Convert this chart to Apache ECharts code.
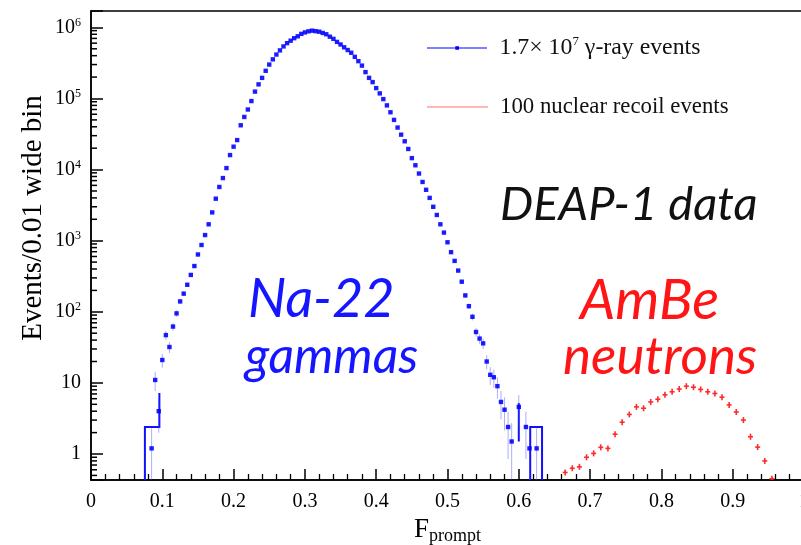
<!DOCTYPE html>
<html><head><meta charset="utf-8">
<script src="https://cdn.jsdelivr.net/npm/echarts@6/dist/echarts.min.js"></script>
<style>html,body{margin:0;padding:0;background:#fff}#c{width:801px;height:545px}</style>
</head><body><div id="c"></div>
<script>
// ---- data ----
const blueF = [0.085,0.09,0.095,0.10,0.105,0.11,0.115,0.12,0.125,0.13,0.135,0.14,0.145,0.15,0.155,0.16,0.165,0.17,0.175,0.18,0.185,0.19,0.195,0.20,0.205,0.21,0.215,0.22,0.225,0.23,0.235,0.24,0.245,0.25,0.255,0.26,0.265,0.27,0.275,0.28,0.285,0.29,0.295,0.30,0.305,0.31,0.315,0.32,0.325,0.33,0.335,0.34,0.345,0.35,0.355,0.36,0.365,0.37,0.375,0.38,0.385,0.39,0.395,0.40,0.405,0.41,0.415,0.42,0.425,0.43,0.435,0.44,0.445,0.45,0.455,0.46,0.465,0.47,0.475,0.48,0.485,0.49,0.495,0.50,0.505,0.51,0.515,0.52,0.525,0.53,0.535,0.54,0.545,0.55,0.555,0.56,0.565,0.57,0.575,0.58,0.585,0.59,0.60,0.61,0.615,0.625];
const blueN = [1.2,11,4,21,47,32,62,95,140,180,240,330,440,640,870,1200,1700,2500,3900,5700,7600,10500,16000,21000,26000,42000,55000,70000,92000,125000,158000,195000,245000,300000,355000,415000,475000,540000,600000,650000,705000,750000,810000,850000,880000,900000,885000,870000,835000,800000,740000,690000,625000,575000,525000,480000,440000,385000,335000,290000,235000,195000,170000,140000,118000,98000,80000,64000,50000,39000,31000,25000,19500,14500,11500,8800,6700,5200,4000,3000,2300,1700,1300,950,690,520,380,265,170,120,85,52,42,36,20,13,12,9,5.4,4.2,2.4,1.5,4.6,2.4,1.2,1.2];
const redF = [0.665,0.675,0.685,0.695,0.705,0.715,0.725,0.735,0.745,0.755,0.765,0.775,0.785,0.795,0.805,0.815,0.825,0.835,0.845,0.855,0.865,0.875,0.885,0.895,0.905,0.915,0.925,0.935,0.945,0.955];
const redN = [0.55,0.63,0.66,0.9,1.02,1.24,1.2,1.9,2.8,3.6,4.6,4.4,5.4,5.9,6.8,7.5,8.2,9.0,8.7,8.1,7.5,7.1,6.3,4.9,3.9,3.0,1.75,1.25,0.8,0.45];
// low-statistics tail outlines of the gamma histogram: [F, events]
const blueTailPaths = [
  [[0.0756,0.1],[0.0756,2.4],[0.0959,2.4],[0.0959,7.2]],
  [[0.600,1.5],[0.600,5.2]],
  [[0.616,0.1],[0.616,2.4],[0.6326,2.4],[0.6326,0.1]]
];
const xMin = 0, xMax = 1, xStep = 0.1;
const yMin = 0.431, yMax = 1.7e6;

const chart = echarts.init(document.getElementById('c'), null, {renderer:'canvas'});
const serif = 'Liberation Serif';
const blue = '#0000ff', red = '#ff0000';

function yLabel(v){
  const l = Math.log10(v), e = Math.round(l);
  if (Math.abs(l - e) > 1e-6) return '';
  if (e === 0) return '1';
  if (e === 1) return '10';
  return '{b|10}{s|' + e + '}';
}

const minorVals = [];
for (let k = -1; k <= 6; k++) for (let m = 2; m <= 9; m++) {
  const v = m * Math.pow(10, k);
  if (v > yMin && v < yMax) minorVals.push([0, v]);
}

function renderBlue(params, api){
  const f = api.value(0), n = api.value(1);
  const p = api.coord([f, n]);
  const e = Math.sqrt(n);
  const t = api.coord([f, n + e]);
  const b = api.coord([f, Math.max(n - e, 0.05)]);
  const l = api.coord([f - 0.0025, n]), r = api.coord([f + 0.0025, n]);
  const es = {stroke:'rgba(70,70,255,0.45)', lineWidth:1};
  return {type:'group', children:[
    {type:'line', shape:{x1:p[0], y1:t[1], x2:p[0], y2:b[1]}, style:es},
    {type:'line', shape:{x1:l[0], y1:p[1], x2:r[0], y2:p[1]}, style:es},
    {type:'rect', shape:{x:p[0]-2.2, y:p[1]-2.2, width:4.4, height:4.4}, style:{fill:blue, opacity:0.88}}
  ]};
}
function renderRed(params, api){
  const f = api.value(0), n = api.value(1);
  const p = api.coord([f, n]);
  const l = api.coord([f - 0.0035, n]), r = api.coord([f + 0.0035, n]);
  const s = {stroke:'#ff2a2a', lineWidth:1.6};
  return {type:'group', children:[
    {type:'line', shape:{x1:l[0], y1:p[1], x2:r[0], y2:p[1]}, style:s},
    {type:'line', shape:{x1:p[0], y1:p[1]-3, x2:p[0], y2:p[1]+3}, style:s}
  ]};
}
function renderTail(params, api){
  const path = blueTailPaths[params.dataIndex];
  const pts = path.map(q => api.coord(q));
  return {type:'polyline', shape:{points:pts}, style:{stroke:'#1010ff', lineWidth:2, fill:null}};
}
function renderMinor(params, api){
  const p = api.coord([0, api.value(1)]);
  return {type:'line', shape:{x1:p[0], y1:p[1], x2:p[0]+6, y2:p[1]}, style:{stroke:'#000', lineWidth:1.5}};
}

const option = {
  animation:false,
  backgroundColor:'#fff',
  grid:{left:91, top:11, width:713, height:469, outerBoundsMode:'none', containLabel:false,
        show:true, borderColor:'#000', borderWidth:1.5, backgroundColor:'transparent'},
  xAxis:{
    type:'value', min:xMin, max:xMax, interval:xStep,
    axisLine:{show:true, lineStyle:{color:'#000', width:1.5}},
    axisTick:{inside:true, length:11, lineStyle:{color:'#000', width:1.5}},
    minorTick:{show:true, splitNumber:5, length:6, lineStyle:{color:'#000', width:1.3}},
    splitLine:{show:false},
    axisLabel:{fontFamily:serif, fontSize:20, color:'#000', margin:12, hideOverlap:false,
      formatter: v => (Math.abs(v) < 1e-9 ? '0' : (Math.abs(v-1) < 1e-9 ? '1' : v.toFixed(1)))},
    name:'{f|F}{s|prompt}', nameLocation:'middle', nameGap:29,
    nameTextStyle:{rich:{f:{fontFamily:serif, fontSize:27, color:'#000', lineHeight:30},
                         s:{fontFamily:serif, fontSize:18, color:'#000', verticalAlign:'bottom', lineHeight:30, padding:[10,0,0,0]}}}
  },
  yAxis:{
    type:'log', logBase:10, min:yMin, max:yMax,
    axisLine:{show:true, lineStyle:{color:'#000', width:1.5}},
    axisTick:{inside:true, length:12, lineStyle:{color:'#000', width:1.5}},
    splitLine:{show:false},
    axisLabel:{fontFamily:serif, fontSize:20, color:'#000', margin:10, formatter:yLabel,
      showMinLabel:true, showMaxLabel:true,
      rich:{b:{fontFamily:serif, fontSize:20, color:'#000', lineHeight:22},
            s:{fontFamily:serif, fontSize:12, color:'#000', verticalAlign:'top', lineHeight:12}}}
  },
  legend:[
    {data:[{name:'gamma', icon:'path://M0,1.3L60,1.3L60,2.3L0,2.3Z M28.3,0L32,0L32,3.6L28.3,3.6Z'}],
     left:427, top:35, padding:0, itemWidth:61, itemHeight:3.6, selectedMode:false,
     formatter:() => '{a|1.7× 10}{s|7}{a| γ-ray events}',
     textStyle:{padding:[0,0,0,7], rich:{a:{fontFamily:serif, fontSize:23.8, color:'#111', lineHeight:26},
                                   s:{fontFamily:serif, fontSize:13, color:'#111', verticalAlign:'top', lineHeight:13}}}},
    {data:[{name:'recoil', icon:'path://M0,0L60,0L60,1.2L0,1.2Z', itemStyle:{color:'#ff7070'}}],
     left:427, top:94, padding:0, itemWidth:61, itemHeight:1.6, selectedMode:false,
     formatter:() => '100 nuclear recoil events',
     textStyle:{padding:[0,0,0,7], fontFamily:serif, fontSize:22.8, color:'#111', lineHeight:26}}
  ],
  graphic:[
    {type:'text', x:33, y:218, rotation:Math.PI/2, style:{text:'Events/0.01 wide bin', font:'29px "Liberation Serif"', fill:'#000', align:'center', verticalAlign:'middle'}},
    {type:'text', x:500, y:205, style:{text:'DEAP-1 data', font:'italic 47px Lato', fill:'#111', align:'left', verticalAlign:'middle'}},
    {type:'text', x:248, y:300, style:{text:'Na-22', font:'italic 54px Lato', fill:'#1515ff', align:'left', verticalAlign:'middle'}},
    {type:'text', x:245, y:357, style:{text:'gammas', font:'italic 50px Lato', fill:'#1515ff', align:'left', verticalAlign:'middle'}},
    {type:'text', x:580, y:301, style:{text:'AmBe', font:'italic 56px Lato', fill:'#ff1515', align:'left', verticalAlign:'middle'}},
    {type:'text', x:563, y:357, style:{text:'neutrons', font:'italic 53px Lato', fill:'#ff1515', align:'left', verticalAlign:'middle'}}
  ],
  series:[
    {type:'custom', name:'minorTicks', silent:true, clip:true, renderItem:renderMinor, data:minorVals, z:5},
    {type:'custom', name:'tail', silent:true, clip:true, renderItem:renderTail, data:blueTailPaths.map((p,i)=>[p[0][0], p[0][1]]), itemStyle:{color:blue}},
    {type:'custom', name:'gamma', clip:true, renderItem:renderBlue, itemStyle:{color:blue}, data:blueF.map((f,i)=>[f, blueN[i]])},
    {type:'custom', name:'recoil', clip:true, renderItem:renderRed, itemStyle:{color:red}, data:redF.map((f,i)=>[f, redN[i]])}
  ]
};
chart.setOption(option);
</script></body></html>
